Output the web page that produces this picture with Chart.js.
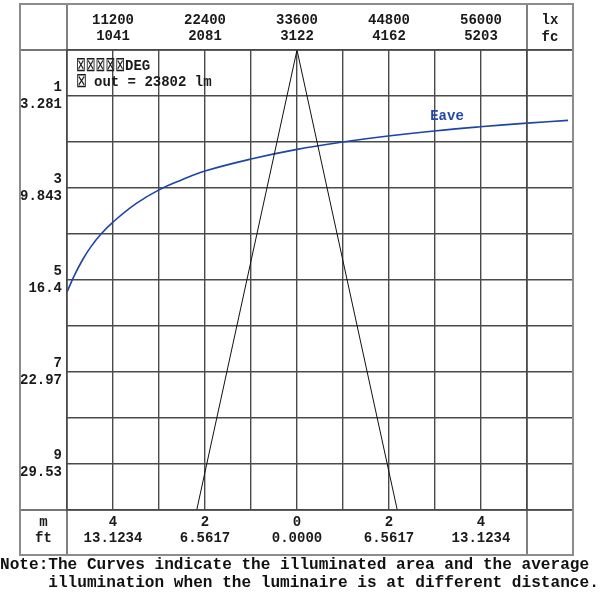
<!DOCTYPE html>
<html>
<head>
<meta charset="utf-8">
<script src="https://cdn.jsdelivr.net/npm/chart.js@4"></script>
<style>
  html, body { margin: 0; padding: 0; background: #fff; }
</style>
</head>
<body>
<canvas id="chart" width="600" height="604"></canvas>
<script>
// top axis: illuminance in lux and foot-candles
const luxTicks = [11200, 22400, 33600, 44800, 56000];
const fcTicks = ['1041', '2081', '3122', '4162', '5203'];
// bottom axis: spot width
const widthM = [-4, -2, 0, 2, 4];
const widthLabelM = ['4', '2', '0', '2', '4'];
const widthFt = ['13.1234', '6.5617', '0.0000', '6.5617', '13.1234'];
// left axis: distance
const distM = [1, 3, 5, 7, 9];
const distFt = ['3.281', '9.843', '16.4', '22.97', '29.53'];

// beam edges (m across, m down)
const beamX = [-2.18, 0, 2.18];
const beamY = [10, 0, 10];

// average illuminance vs distance
const eaveLux = [5600, 6500, 7500, 8500, 9740, 11200, 14000, 16800, 19600, 22400, 28000, 33600, 39200, 44700, 50300, 55900, 61600, 66600];
const eaveDist = [5.26, 4.90, 4.56, 4.28, 4.00, 3.74, 3.34, 3.04, 2.82, 2.63, 2.37, 2.16, 2.00, 1.87, 1.76, 1.67, 1.59, 1.53];

const legendLine1 = ['⊠⊠⊠⊠⊠', 'DEG'];
const legendLine2 = ['⊠', 'out = 23802 lm'];
const noteLines = [
  'Note:The Curves indicate the illuminated area and the average',
  '     illumination when the luminaire is at different distance.'
];

const mono = '"Liberation Mono", "Courier New", monospace';
const tickFont = { family: mono, size: 14, weight: 'bold', lineHeight: 1.15 };
const gridColor = '#4a4a4a';

const range = (a, b) => { const r = []; for (let v = a; v <= b; v++) r.push({ value: v }); return r; };

const tableFrame = {
  id: 'tableFrame',
  afterDraw(chart) {
    const { ctx, chartArea: a, scales } = chart;
    const L = 20, T = 4, B = 555, R = a.right;
    const lastCol = scales.x.getPixelForValue(5);
    ctx.save();
    ctx.strokeStyle = gridColor;
    ctx.lineWidth = 1.4;
    ctx.beginPath();
    [a.left, lastCol].forEach(x => { ctx.moveTo(x, T); ctx.lineTo(x, B); });
    [a.top, a.bottom].forEach(y => { ctx.moveTo(L, y); ctx.lineTo(R, y); });
    ctx.stroke();
    ctx.strokeStyle = '#8c8c8c';
    ctx.lineWidth = 2;
    ctx.strokeRect(L, T, R - L, B - T);

    ctx.fillStyle = '#1a1a1a';
    ctx.font = 'bold 14px ' + mono;
    ctx.textAlign = 'center';
    ctx.textBaseline = 'middle';
    const cx = (lastCol + R) / 2;
    ctx.fillText('lx', cx, 20);
    ctx.fillText('fc', cx, 37);
    const mx = (L + a.left) / 2;
    ctx.fillText('m', mx, 522);
    ctx.fillText('ft', mx, 538);

    // legend
    ctx.textAlign = 'left';
    ctx.fillText(legendLine1[1], 125, 66);
    ctx.fillText(legendLine2[1], 94, 82);
    ctx.font = '20px "DejaVu Sans"';
    ctx.fillText(legendLine1[0], 76, 66, 49);
    ctx.fillText(legendLine2[0], 76, 82, 11);

    // curve label
    ctx.fillStyle = '#2448a8';
    ctx.font = 'bold 14px ' + mono;
    ctx.textAlign = 'center';
    ctx.fillText('Eave', 447, 116);

    // note
    ctx.fillStyle = '#111';
    ctx.textAlign = 'left';
    ctx.font = 'bold 16.1px ' + mono;
    ctx.fillText(noteLines[0], 0, 565);
    ctx.fillText(noteLines[1], 0, 583);
    ctx.restore();
  }
};

new Chart(document.getElementById('chart'), {
  type: 'scatter',
  data: {
    datasets: [
      {
        label: 'beam',
        data: beamX.map((x, i) => ({ x: x, y: beamY[i] })),
        showLine: true,
        borderColor: '#111',
        borderWidth: 1,
        pointRadius: 0,
        xAxisID: 'x',
        yAxisID: 'y'
      },
      {
        label: 'Eave',
        data: eaveLux.map((l, i) => ({ x: l, y: eaveDist[i] })),
        showLine: true,
        borderColor: '#1c45a6',
        borderWidth: 1.6,
        pointRadius: 0,
        tension: 0.4,
        xAxisID: 'x2',
        yAxisID: 'y'
      }
    ]
  },
  options: {
    responsive: false,
    animation: false,
    layout: { padding: { left: 20, top: 4, right: 27, bottom: 49 } },
    plugins: {
      legend: { display: false },
      tooltip: { enabled: false }
    },
    scales: {
      x: {
        type: 'linear',
        position: 'bottom',
        min: -5,
        max: 6,
        afterBuildTicks: (s) => { s.ticks = range(-5, 6); },
        afterFit: (s) => { s.height = 45; },
        border: { display: false },
        grid: { color: gridColor, lineWidth: 1.4, drawTicks: false },
        ticks: {
          font: tickFont,
          color: '#1a1a1a',
          padding: 4,
          autoSkip: false,
          maxRotation: 0,
          callback: (v) => {
            const i = widthM.indexOf(v);
            return i < 0 ? '' : [widthLabelM[i], widthFt[i]];
          }
        }
      },
      x2: {
        type: 'linear',
        position: 'top',
        min: 5600,
        max: 67200,
        afterBuildTicks: (s) => { s.ticks = luxTicks.map(v => ({ value: v })); },
        afterFit: (s) => { s.height = 46; },
        border: { display: false },
        grid: { display: false, drawTicks: false },
        ticks: {
          font: tickFont,
          color: '#1a1a1a',
          padding: 5,
          autoSkip: false,
          maxRotation: 0,
          callback: (v) => {
            const i = luxTicks.indexOf(v);
            return i < 0 ? '' : [String(v), fcTicks[i]];
          }
        }
      },
      y: {
        type: 'linear',
        reverse: true,
        min: 0,
        max: 10,
        afterBuildTicks: (s) => { s.ticks = range(0, 10); },
        afterFit: (s) => { s.width = 47; },
        border: { display: false },
        grid: { color: gridColor, lineWidth: 1.4, drawTicks: false },
        ticks: {
          font: tickFont,
          color: '#1a1a1a',
          padding: 5,
          autoSkip: false,
          callback: (v) => {
            const i = distM.indexOf(v);
            return i < 0 ? '' : [String(v), distFt[i]];
          }
        }
      }
    }
  },
  plugins: [tableFrame]
});
</script>
</body>
</html>
